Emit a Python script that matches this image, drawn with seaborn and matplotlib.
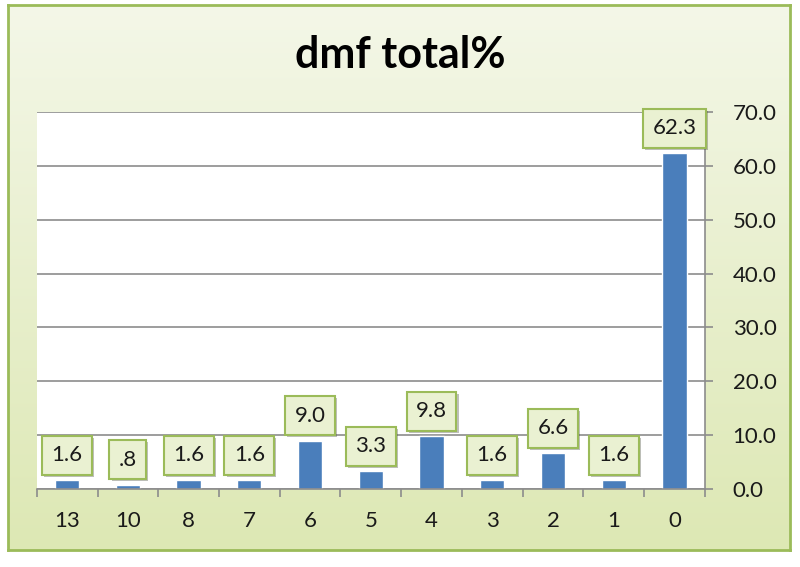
import matplotlib
matplotlib.use('Agg')
import matplotlib.pyplot as plt
import matplotlib.patheffects as pe
import numpy as np
import pandas as pd
import seaborn as sns

categories = ['13', '10', '8', '7', '6', '5', '4', '3', '2', '1', '0']
values = [1.6, 0.8, 1.6, 1.6, 9.0, 3.3, 9.8, 1.6, 6.6, 1.6, 62.3]
y_ticks = [0, 10, 20, 30, 40, 50, 60, 70]
title = 'dmf total%'

sns.set_theme(style='white')
plt.rcParams['font.family'] = ['Lato', 'DejaVu Sans']

df = pd.DataFrame({'cat': categories, 'val': values})

fig = plt.figure(figsize=(8, 5.67), dpi=100)
fig.patch.set_facecolor('white')

# outer chart frame with a soft green gradient
bg = fig.add_axes([0.01, 0.03, 0.9775, 0.961])
grad = np.linspace(0, 1, 256).reshape(-1, 1)
cmap = matplotlib.colors.LinearSegmentedColormap.from_list('g', ['#f4f7e8', '#dde8b4'])
bg.imshow(grad, aspect='auto', cmap=cmap, extent=[0, 1, 0, 1], origin='upper')
bg.set_xticks([])
bg.set_yticks([])
for s in bg.spines.values():
    s.set_color('#9bbb59')
    s.set_linewidth(2)

ax = fig.add_axes([0.046, 0.1376, 0.835, 0.665])
ax.set_facecolor('white')
sns.barplot(data=df, x='cat', y='val', order=categories, color='#4a7ebb',
            width=0.4, saturation=1, ax=ax)

ax.set_ylim(0, 70)
ax.set_xlim(-0.5, len(categories) - 0.5)
ax.set_yticks(y_ticks)
ax.set_yticklabels(['{:.1f}'.format(v) for v in y_ticks], fontsize=16, color='#1a1a1a')
ax.yaxis.tick_right()
ax.yaxis.grid(True, color='#8c8c8c', linewidth=1.2)
ax.set_axisbelow(True)
ax.tick_params(axis='y', which='major', right=True, length=6, width=1.2, color='#8c8c8c', pad=14)
ax.tick_params(axis='x', which='major', length=0, labelsize=16, labelcolor='#1a1a1a', pad=16)
ax.set_xticks(np.arange(-0.5, len(categories)), minor=True)
ax.tick_params(axis='x', which='minor', bottom=True, length=6, width=1.2, color='#8c8c8c')
ax.set_xlabel('')
ax.set_ylabel('')
for side in ['top', 'left']:
    ax.spines[side].set_visible(False)
for side in ['bottom', 'right']:
    ax.spines[side].set_color('#8c8c8c')
    ax.spines[side].set_linewidth(1.2)

for i, v in enumerate(values):
    lbl = '{:.1f}'.format(v)
    if lbl.startswith('0'):
        lbl = lbl[1:]
    t = ax.annotate(lbl, xy=(i, v), xytext=(0, 18), textcoords='offset points',
                    ha='center', va='center', fontsize=16, color='#1a1a1a',
                    bbox=dict(boxstyle='square,pad=0.42', fc='#eaf1d2', ec='#9bbb59', lw=1.5))
    t.get_bbox_patch().set_path_effects([pe.SimplePatchShadow(offset=(1.5, -1.5), alpha=0.35),
                                         pe.Normal()])

fig.text(0.5, 0.903, title, ha='center', va='center', fontsize=31, fontweight='bold', color='black')

fig.savefig('out.png', dpi=100)
